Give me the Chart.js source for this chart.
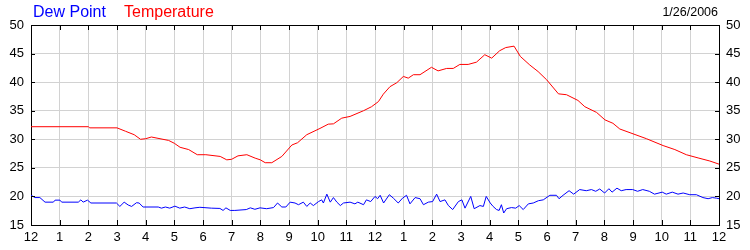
<!DOCTYPE html>
<html>
<head>
<meta charset="utf-8">
<script src="https://cdn.jsdelivr.net/npm/chart.js@4"></script>
<style>
body { margin: 0; background: #fff; }
#wrap { position: relative; width: 750px; height: 250px; }
.lbl { position: absolute; font-family: "Liberation Sans", Arial, sans-serif; white-space: nowrap; }
#dew { left: 33px; top: 4px; font-size: 16px; line-height: 16px; color: #0000ff; }
#temp { left: 124px; top: 4px; font-size: 16px; line-height: 16px; color: #ff0000; }
#date { right: 32px; top: 6px; font-size: 12.5px; line-height: 13px; color: #000; }
</style>
</head>
<body>
<div id="wrap">
    <canvas id="myChart" width="750" height="250"></canvas>
    <div class="lbl" id="dew">Dew Point</div>
    <div class="lbl" id="temp">Temperature</div>
    <div class="lbl" id="date">1/26/2006</div>
</div>
<script>
// hours after midnight, 0..24
let hourLabels = ['12', '1', '2', '3', '4', '5', '6', '7', '8', '9', '10', '11',
    '12', '1', '2', '3', '4', '5', '6', '7', '8', '9', '10', '11', '12'];
let yTicks = [15, 20, 25, 30, 35, 40, 45, 50];

let tempHours = [0, 2.0, 2.05, 3.0, 3.3, 3.6, 3.82, 4.0, 4.2, 4.5, 4.8, 5.0, 5.2, 5.5, 5.8, 6.1, 6.6, 6.83, 7.0,
    7.22, 7.53, 7.82, 8.0, 8.17, 8.4, 8.75, 9.1, 9.3, 9.62, 10.08, 10.37, 10.55, 10.84, 11.13, 11.6, 11.88,
    12.12, 12.29, 12.52, 12.76, 12.99, 13.16, 13.34, 13.57, 13.97, 14.2, 14.5, 14.73, 14.96, 15.25, 15.54,
    15.83, 16.07, 16.35, 16.56, 16.85, 17.07, 17.4, 17.69, 17.99, 18.4, 18.68, 19.08, 19.32, 19.73, 20.02,
    20.3, 20.54, 21.0, 21.47, 22.05, 22.46, 22.86, 23.3, 23.68, 24];
let tempValues = [32.2, 32.2, 32.0, 32.0, 31.4, 30.8, 30.0, 30.1, 30.4, 30.1, 29.8, 29.3, 28.6, 28.2, 27.3, 27.3, 27.0, 26.4, 26.5,
    27.1, 27.3, 26.7, 26.4, 25.9, 25.9, 27.0, 29.0, 29.4, 30.8, 31.9, 32.65, 32.7, 33.7, 34.0, 35.0, 35.7,
    36.6, 37.9, 39.2, 39.9, 41.0, 40.7, 41.3, 41.3, 42.6, 41.97, 42.4, 42.4, 43.1, 43.1, 43.5,
    44.8, 44.2, 45.5, 46.05, 46.3, 44.5, 43.0, 41.85, 40.4, 37.95, 37.8, 36.8, 35.7, 34.7, 33.4,
    32.8, 31.8, 30.96, 30.1, 28.9, 28.2, 27.3, 26.7, 26.2, 25.65];

let dewHours = [0.0, 0.14, 0.31, 0.49, 0.78, 0.84, 1.01, 1.07, 1.65, 1.74, 1.82, 1.97, 2.09, 2.98, 3.1, 3.25, 3.39,
    3.51, 3.68, 3.77, 3.91, 4.44, 4.55, 4.69, 4.84, 5.02, 5.19, 5.36, 5.54, 5.72, 5.89, 6.29, 6.59, 6.7, 6.8,
    6.95, 7.11, 7.51, 7.65, 7.81, 7.99, 8.22, 8.46, 8.6, 8.75, 8.89, 9.04, 9.21, 9.33, 9.5, 9.62, 9.74, 9.85,
    10.03, 10.14, 10.2, 10.32, 10.44, 10.55, 10.67, 10.79, 10.9, 11.13, 11.3, 11.4, 11.6, 11.7, 11.85, 12.0,
    12.09, 12.18, 12.3, 12.5, 12.64, 12.81, 12.96, 13.1, 13.22, 13.4, 13.57, 13.69, 13.86, 14.01, 14.15,
    14.27, 14.44, 14.56, 14.71, 14.91, 15.03, 15.14, 15.34, 15.46, 15.66, 15.78, 15.88, 16.02, 16.12, 16.24,
    16.33, 16.41, 16.49, 16.59, 16.76, 16.91, 17.03, 17.17, 17.35, 17.52, 17.7, 17.87, 18.1, 18.33, 18.42,
    18.56, 18.77, 18.93, 19.14, 19.37, 19.55, 19.7, 19.84, 20.01, 20.16, 20.27, 20.44, 20.59, 20.76, 20.99,
    21.16, 21.34, 21.57, 21.75, 22.02, 22.16, 22.37, 22.57, 22.75, 22.98, 23.21, 23.44, 23.62, 23.77, 23.91, 24.0];
let dewValues = [20.2, 19.8, 19.8, 19.0, 19.0, 19.35, 19.35, 19.0, 19.0, 19.4, 19.0, 19.35, 18.85, 18.85, 18.25, 19.0, 18.5,
    18.25, 18.9, 18.85, 18.15, 18.15, 17.95, 18.15, 17.95, 18.3, 17.95, 18.15, 17.85, 18.0, 18.1, 17.95, 17.9, 17.55, 18.0,
    17.55, 17.55, 17.7, 18.0, 17.75, 18.0, 17.85, 18.05, 18.85, 18.15, 18.15, 19.0, 18.85, 18.55, 19.0, 18.25, 18.85, 18.4,
    19.1, 19.4, 18.85, 20.4, 19.0, 19.8, 19.0, 18.4, 18.85, 19.0, 18.7, 19.0, 18.55, 19.4, 19.1, 20.0,
    19.6, 20.2, 18.85, 20.3, 19.7, 18.85, 19.7, 20.2, 18.7, 19.8, 19.6, 18.55, 19.0, 19.1, 20.4,
    19.1, 19.4, 18.4, 17.7, 19.1, 19.4, 17.95, 20.0, 17.85, 18.4, 18.25, 20.0, 18.85, 18.25, 17.7,
    17.55, 18.55, 17.1, 17.85, 18.05, 17.95, 18.4, 17.7, 18.7, 18.85, 19.25, 19.4, 20.2, 20.2, 19.6,
    20.2, 21.0, 20.4, 21.2, 21.0, 21.2, 20.9, 21.3, 20.6, 21.35, 20.75, 21.45, 21.0, 21.2, 21.2,
    20.9, 21.2, 20.9, 20.4, 20.75, 20.4, 20.75, 20.4, 20.6, 20.3, 20.3, 19.8, 19.6, 19.8, 19.7, 19.6];

const fontFamily = '"Liberation Sans", Arial, sans-serif';
const gridColor = '#d2d2d2';

// top border and the short inner tick marks on every side
const frame = {
    id: 'frame',
    afterDraw(chart) {
        const ctx = chart.ctx;
        const a = chart.chartArea;
        const x = chart.scales.x;
        const y = chart.scales.y;
        ctx.save();
        ctx.strokeStyle = '#000';
        ctx.lineWidth = 1;
        ctx.beginPath();
        ctx.moveTo(a.left, Math.round(a.top) + 0.5);
        ctx.lineTo(a.right + 1, Math.round(a.top) + 0.5);
        hourLabels.forEach((l, i) => {
            const px = Math.round(x.getPixelForValue(i)) + 0.5;
            ctx.moveTo(px, a.top);
            ctx.lineTo(px, a.top + 5);
            ctx.moveTo(px, a.bottom);
            ctx.lineTo(px, a.bottom - 5);
        });
        yTicks.forEach(v => {
            const py = Math.round(y.getPixelForValue(v)) + 0.5;
            ctx.moveTo(a.left, py);
            ctx.lineTo(a.left + 4, py);
            ctx.moveTo(a.right, py);
            ctx.lineTo(a.right - 4, py);
        });
        ctx.stroke();
        ctx.restore();
    }
};

const yAxis = (pos) => ({
    position: pos,
    min: 15,
    max: 50,
    afterBuildTicks: s => { s.ticks = yTicks.map(v => ({ value: v })); },
    ticks: {
        color: '#000',
        padding: 7,
        font: { family: fontFamily, size: 13 }
    },
    grid: {
        color: gridColor,
        drawTicks: false,
        drawOnChartArea: pos === 'left'
    },
    border: { color: '#000' },
    afterFit: s => { s.width = 31; }
});

const ctx = document.getElementById('myChart');

new Chart(ctx, {
    type: 'line',
    data: {
        datasets: [{
            label: 'Temperature',
            data: tempHours.map((h, i) => ({ x: h, y: tempValues[i] })),
            borderColor: '#ff0000',
            yAxisID: 'y'
        }, {
            label: 'Dew Point',
            data: dewHours.map((h, i) => ({ x: h, y: dewValues[i] })),
            borderColor: '#0000ff',
            yAxisID: 'y'
        }]
    },
    options: {
        responsive: false,
        animation: false,
        events: [],
        devicePixelRatio: 1,
        layout: { padding: { top: 25, left: 0, right: 0, bottom: 0 } },
        elements: {
            point: { radius: 0 },
            line: { borderWidth: 1, tension: 0 }
        },
        plugins: {
            legend: { display: false },
            tooltip: { enabled: false }
        },
        scales: {
            x: {
                type: 'linear',
                min: 0,
                max: 24,
                afterBuildTicks: s => { s.ticks = hourLabels.map((l, i) => ({ value: i })); },
                ticks: {
                    callback: (v) => hourLabels[v],
                    color: '#000',
                    padding: 5,
                    maxRotation: 0,
                    autoSkip: false,
                    font: { family: fontFamily, size: 13 }
                },
                grid: { color: gridColor, drawTicks: false },
                border: { color: '#000' },
                afterFit: s => { s.height = 25; }
            },
            y: yAxis('left'),
            y2: yAxis('right')
        }
    },
    plugins: [frame]
});
</script>
</body>
</html>
